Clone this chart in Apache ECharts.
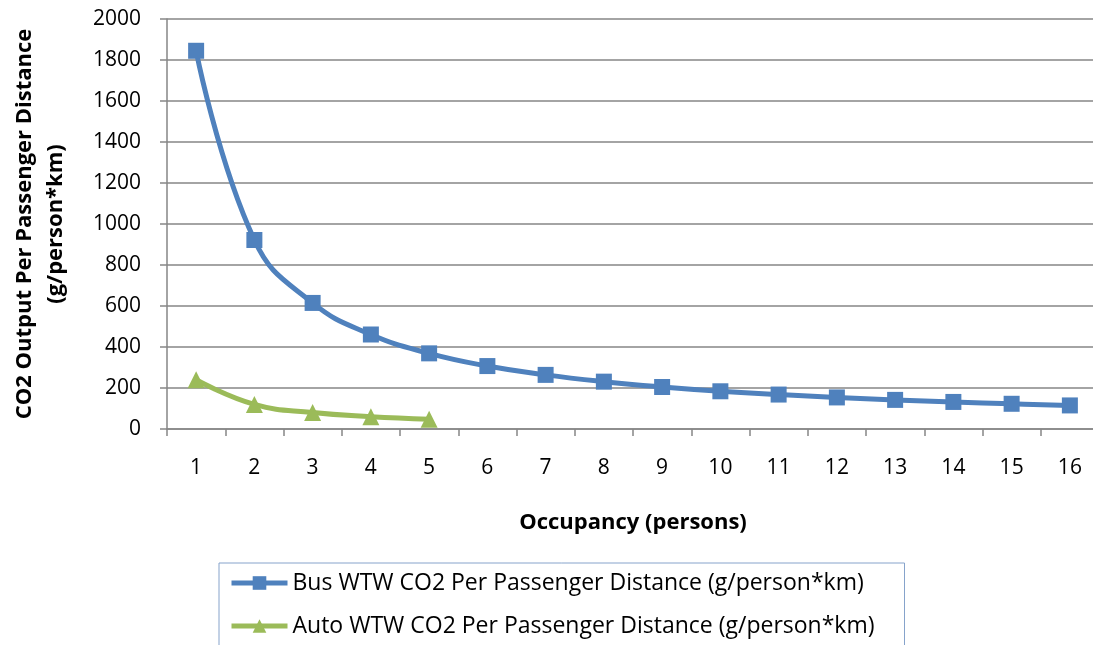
<!DOCTYPE html>
<html>
<head>
<meta charset="utf-8">
<script src="https://cdn.jsdelivr.net/npm/echarts@6/dist/echarts.min.js"></script>
<style>
  html, body { margin: 0; padding: 0; background: #fff; }
  #main { width: 1093px; height: 645px; }
</style>
</head>
<body>
<div id="main"></div>
<script>
// Data
const occupancy = ['1', '2', '3', '4', '5', '6', '7', '8', '9', '10', '11', '12', '13', '14', '15', '16'];
const busCO2 = [1845, 922, 615, 461, 369, 307, 264, 231, 205, 184, 168, 154, 142, 132, 123, 115];
const autoCO2 = [240, 120, 80, 60, 48];
const yTicks = [0, 2000, 200]; // min, max, step

const FONT = 'Open Sans';
const GRID_COLOR = '#868686';

var chart = echarts.init(document.getElementById('main'));

var option = {
  animation: false,
  textStyle: { fontFamily: FONT, color: '#000' },
  grid: {
    left: 167,
    top: 19,
    width: 932,
    height: 410,
    outerBoundsMode: 'none'
  },
  legend: {
    orient: 'vertical',
    left: 219,
    top: 563,
    height: 300,
    padding: [7, 30, 40, 10],
    itemGap: 17,
    itemWidth: 56,
    itemHeight: 17,
    borderColor: '#86a3cb',
    borderWidth: 1,
    lineStyle: { width: 5 },
    textStyle: { fontFamily: FONT, fontSize: 23, lineHeight: 26, color: '#000' },
    data: [
      'Bus WTW CO2 Per Passenger Distance (g/person*km)',
      'Auto WTW CO2 Per Passenger Distance (g/person*km)'
    ]
  },
  xAxis: {
    type: 'category',
    data: occupancy,
    boundaryGap: true,
    name: 'Occupancy (persons)',
    nameLocation: 'middle',
    nameGap: 83,
    nameTextStyle: { fontFamily: FONT, fontWeight: 'bold', fontSize: 22, color: '#000' },
    axisLine: { lineStyle: { color: GRID_COLOR, width: 1.5 } },
    axisTick: { show: true, length: 7, lineStyle: { color: GRID_COLOR, width: 1.5 } },
    axisLabel: { margin: 29, fontSize: 21, color: '#000', fontFamily: FONT },
    splitLine: { show: false }
  },
  yAxis: {
    type: 'value',
    min: yTicks[0],
    max: yTicks[1],
    interval: yTicks[2],
    name: 'CO2 Output Per Passenger Distance\n(g/person*km)',
    nameLocation: 'middle',
    nameGap: 96,
    nameTextStyle: { fontFamily: FONT, fontWeight: 'bold', fontSize: 22, color: '#000', lineHeight: 31 },
    axisLine: { show: true, lineStyle: { color: GRID_COLOR, width: 1.5 } },
    axisTick: { show: true, length: 7, lineStyle: { color: GRID_COLOR, width: 1.5 } },
    axisLabel: {
      margin: 26, fontSize: 21, color: '#000', fontFamily: FONT,
      formatter: function (v) { return String(v); }
    },
    splitLine: { show: true, lineStyle: { color: GRID_COLOR, width: 1.5 } }
  },
  series: [
    {
      name: 'Bus WTW CO2 Per Passenger Distance (g/person*km)',
      type: 'line',
      data: busCO2,
      smooth: 0.45,
      symbol: 'rect',
      symbolSize: 16,
      color: '#4f81bd',
      lineStyle: { width: 5, color: '#4f81bd' },
      itemStyle: { color: '#4f81bd' }
    },
    {
      name: 'Auto WTW CO2 Per Passenger Distance (g/person*km)',
      type: 'line',
      data: autoCO2,
      smooth: 0.45,
      symbol: 'triangle',
      symbolSize: 17,
      color: '#9bbb59',
      lineStyle: { width: 5, color: '#9bbb59' },
      itemStyle: { color: '#9bbb59' }
    }
  ]
};

chart.setOption(option);
</script>
</body>
</html>
